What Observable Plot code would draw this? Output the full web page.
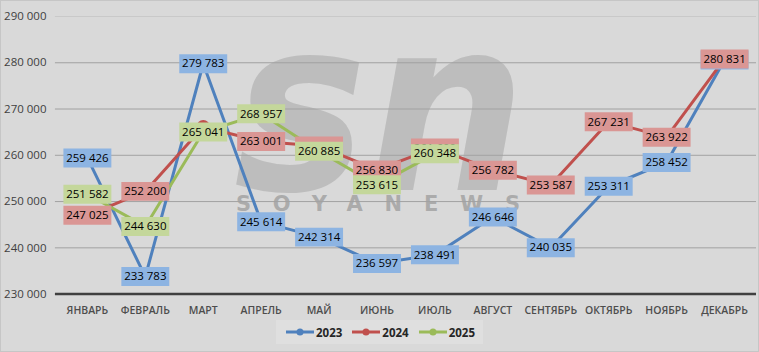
<!DOCTYPE html>
<html>
<head>
<meta charset="utf-8">
<script src="https://cdn.jsdelivr.net/npm/d3@7"></script>
<script src="https://cdn.jsdelivr.net/npm/@observablehq/plot@0.6"></script>
<style>
  body { margin: 0; background: #ffffff; }
  #wrap { position: relative; width: 759px; height: 352px; background: #d9d9d9; box-sizing: border-box; border: 1px solid #c6c6c6; overflow: hidden; font-family: "Open Sans", sans-serif; }
  #wm { position: absolute; left: -1px; top: -1px; }
  #chart { position: absolute; left: -1px; top: -1px; }
  #legend { position: absolute; left: -1px; top: 319px; width: 759px; display: flex; justify-content: center; }
  #legend .box { display: flex; align-items: center; gap: 10px; background: #dfdfdf; padding: 2px 8px 2px 10px; height: 20px; }
  #legend .item { display: flex; align-items: center; font-size: 11.5px; font-weight: 700; color: #262626; }
  #legend svg { margin-right: 2px; }
</style>
</head>
<body>
<div id="wrap">
  <svg id="wm" width="759" height="352">
    <text x="234" y="190" font-family="DejaVu Sans" font-style="italic" font-weight="bold" font-size="240" fill="#a6a6a6" fill-opacity="0.55" textLength="292" lengthAdjust="spacingAndGlyphs">sn</text>
    <text x="236" y="211" font-family="DejaVu Sans" font-weight="bold" font-size="21" fill="#9c9c9c" fill-opacity="0.75" textLength="284" lengthAdjust="spacing">SOYANEWS</text>
  </svg>
  <div id="chart"></div>
  <div id="legend"></div>
</div>
<script>
// ---- data ----
const months = ["ЯНВАРЬ", "ФЕВРАЛЬ", "МАРТ", "АПРЕЛЬ", "МАЙ", "ИЮНЬ", "ИЮЛЬ", "АВГУСТ", "СЕНТЯБРЬ", "ОКТЯБРЬ", "НОЯБРЬ", "ДЕКАБРЬ"];
const values2023 = [259426, 233783, 279783, 245614, 242314, 236597, 238491, 246646, 240035, 253311, 258452, 280600];
const values2024 = [247025, 252200, 266150, 263001, 262000, 256830, 261600, 256782, 253587, 267231, 263922, 280831];
const values2025 = [251582, 244630, 265041, 268957, 260885, 253615, 260348];
const hiddenLabels2024 = ["МАРТ"];
const yTicks = [230000, 240000, 250000, 260000, 270000, 280000, 290000];
const seriesNames = ["2023", "2024", "2025"];
const lineColors = ["#4f81bd", "#c0504d", "#9bbb59"];
const boxColors = ["#8db4e2", "#da9694", "#c4d79b"];

const seriesValues = [values2023, values2024, values2025];
const seriesData = seriesValues.map((vals, s) =>
  vals.map((v, i) => ({ month: months[i], value: v, series: seriesNames[s] }))
);
const labelData = seriesData.map((rows, s) =>
  rows.filter(d => !(s === 1 && hiddenLabels2024.includes(d.month)))
);

const fmt = d => d3.format(",")(d).replace(/,/g, " ");

// rectangle symbol for data-label boxes
const labelBox = {
  draw(ctx) {
    const w = 24, h = 9.5;
    ctx.moveTo(-w, -h); ctx.lineTo(w, -h); ctx.lineTo(w, h); ctx.lineTo(-w, h); ctx.closePath();
  }
};

const marks = [
  Plot.ruleY(yTicks.filter(t => t > 230000 && t < 290000), { stroke: "#a2a2a2", strokeWidth: 1 }),
  Plot.ruleY([290000], { stroke: "#c9c9c9", strokeWidth: 1 }),
  Plot.ruleY([230000], { stroke: "#404040", strokeWidth: 2.5 }),
  Plot.axisY({ ticks: yTicks, tickFormat: fmt, tickSize: 0, tickPadding: 9, fontSize: 11.5, fill: "#404040", label: null }),
  Plot.axisX({ tickSize: 0, tickPadding: 12, fontSize: 10.5, fontWeight: 600, fill: "#4d4d4d", label: null })
];
seriesData.forEach((rows, s) => {
  marks.push(Plot.line(rows, { x: "month", y: "value", stroke: lineColors[s], strokeWidth: 3 }));
  marks.push(Plot.dot(rows, { x: "month", y: "value", r: 6.8, fill: lineColors[s] }));
});
labelData.forEach((rows, s) => {
  marks.push(Plot.dot(rows, { x: "month", y: "value", symbol: labelBox, r: 5, fill: boxColors[s] }));
  marks.push(Plot.text(rows, { x: "month", y: "value", text: d => fmt(d.value), fill: "#000000", fontSize: 11.5 }));
});

const chart = Plot.plot({
  width: 759,
  height: 320,
  marginLeft: 55,
  marginRight: 2,
  marginTop: 16,
  marginBottom: 26,
  style: { background: "transparent", fontFamily: "Open Sans, sans-serif", overflow: "visible" },
  x: { type: "point", domain: months, padding: 0.5 },
  y: { domain: [230000, 290000] },
  marks
});
document.getElementById("chart").appendChild(chart);

// legend
const legendBox = document.createElement("div");
legendBox.className = "box";
seriesNames.forEach((name, s) => {
  const item = document.createElement("div");
  item.className = "item";
  item.innerHTML = `<svg width="28" height="10"><line x1="0" y1="5" x2="28" y2="5" stroke="${lineColors[s]}" stroke-width="3"/><circle cx="14" cy="5" r="3.5" fill="${lineColors[s]}"/></svg><span>${name}</span>`;
  legendBox.appendChild(item);
});
document.getElementById("legend").appendChild(legendBox);
</script>
</body>
</html>
